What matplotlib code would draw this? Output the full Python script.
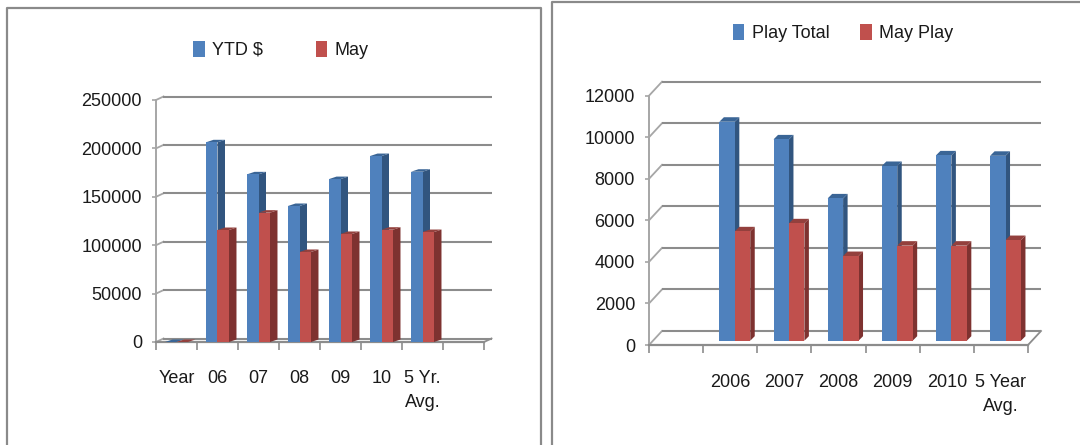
import matplotlib
matplotlib.use('Agg')
import matplotlib.pyplot as plt
from matplotlib.lines import Line2D
from matplotlib.patches import Patch, Polygon, Rectangle

# left chart data
left_labels = ['Year', '06', '07', '08', '09', '10', '5 Yr.\nAvg.', '']
left_ytd = [0, 206300, 173200, 140500, 168300, 192100, 175900, None]
left_may = [0, 115700, 133600, 93000, 111600, 116000, 113600, None]
left_ticks = [0, 50000, 100000, 150000, 200000, 250000]

# right chart data
right_labels = ['', '2006', '2007', '2008', '2009', '2010', '5 Year\nAvg.']
right_total = [None, 10540, 9690, 6850, 8410, 8920, 8900]
right_may = [None, 5265, 5650, 4075, 4575, 4575, 4845]
right_ticks = [0, 2000, 4000, 6000, 8000, 10000, 12000]

W, H = 1080, 445
BLUE, BLUE_SIDE, BLUE_TOP = '#4F81BD', '#31557F', '#3A6596'
RED, RED_SIDE, RED_TOP = '#C0504D', '#7E3230', '#93403D'
GRID = '#8C8C8C'
FONT = ['Liberation Sans Narrow', 'Liberation Sans']

plt.rcParams['font.family'] = FONT

fig = plt.figure(figsize=(W / 100, H / 100), dpi=100)


def make_axes(x0, x1, ytop, ybottom):
    return fig.add_axes([x0 / W, 1 - ybottom / H, (x1 - x0) / W, (ybottom - ytop) / H])


def bar3d(ax, x, width, value, base, dx, dy, colors):
    # front face plus side and top drawn as polygons, depth given in data units
    front, side, top = colors
    y0, y1 = base, base + value
    if value > 0:
        ax.add_patch(Rectangle((x, y0), width, value, fc=front, ec='none', zorder=4))
        ax.add_patch(Polygon([(x + width, y0), (x + width + dx, y0 + dy), (x + width + dx, y1 + dy),
                              (x + width, y1)], fc=side, ec='none', zorder=3))
    ax.add_patch(Polygon([(x, y1), (x + dx, y1 + dy), (x + width + dx, y1 + dy), (x + width, y1)],
                         fc=top, ec='none', zorder=3))


def draw_chart(ax, labels, s1, s2, ticks, names, wall, depth, start, width, base_px, fs, legend_at, legend_gap, label_y):
    slots = len(labels)
    ax.set_xlim(0, slots)
    ax.set_ylim(ticks[0], ticks[-1])
    bbox = ax.get_position()
    px_x = slots / (bbox.width * W)
    px_y = ticks[-1] / (bbox.height * H)

    # back wall gridlines with the connectors to the front plane
    wx, wy = wall[0] * px_x, wall[1] * px_y
    for t in ticks:
        ax.plot([0, wx], [t, t + wy], color='#A6A6A6', lw=1.3, clip_on=False, zorder=1)
        ax.plot([wx, slots + wx], [t + wy, t + wy], color=GRID, lw=1.5, clip_on=False, zorder=1,
                solid_capstyle='butt')
    ax.plot([slots, slots + wx], [0, wy], color=GRID, lw=1.3, clip_on=False, zorder=1)

    # bars
    dx, dy = depth[0] * px_x, depth[1] * px_y
    base = base_px * px_y
    for i in range(slots):
        if s1[i] is None:
            continue
        bar3d(ax, i + start, width, s1[i], base, dx, dy, (BLUE, BLUE_SIDE, BLUE_TOP))
        bar3d(ax, i + start + width, width, s2[i], base, dx, dy, (RED, RED_SIDE, RED_TOP))

    for name in ['top', 'right']:
        ax.spines[name].set_visible(False)
    ax.spines['left'].set_color('#A6A6A6')
    ax.spines['bottom'].set_color(GRID)
    ax.spines['left'].set_linewidth(1.4)
    ax.spines['bottom'].set_linewidth(1.6)
    ax.patch.set_visible(False)

    ax.set_yticks(ticks)
    ax.set_yticklabels([str(t) for t in ticks], fontsize=fs, color='#1A1A1A')
    ax.tick_params(axis='y', length=3, width=1.2, color='#A6A6A6', pad=7)
    ax.set_xticks(range(slots + 1))
    ax.set_xticklabels([])
    ax.tick_params(axis='x', length=6, width=1.2, color=GRID)
    for i, lab in enumerate(labels):
        ax.annotate(lab, (i + 0.5, 0), xytext=(0, label_y), xycoords='data', textcoords='offset pixels',
                    ha='center', va='top', fontsize=fs, color='#1A1A1A', linespacing=1.55)

    handles = [Patch(fc=BLUE, ec='none', label=names[0]), Patch(fc=RED, ec='none', label=names[1])]
    fig.legend(handles=handles, loc='center', bbox_to_anchor=legend_at, ncol=2, frameon=False,
               fontsize=fs, handlelength=0.65, handleheight=0.95, handletextpad=0.4,
               columnspacing=legend_gap, labelcolor='#1A1A1A')


ax1 = make_axes(156, 484, 100, 342)
draw_chart(ax1, left_labels, left_ytd, left_may, left_ticks, ['YTD $', 'May'], (7.5, 3.5), (7.5, 2.5),
           0.22, 0.28, 0, 13, (281 / W, 1 - 50 / H), 2.9, -28)

ax2 = make_axes(649, 1028, 95.7, 345)
draw_chart(ax2, right_labels, right_total, right_may, right_ticks, ['Play Total', 'May Play'], (13, 14), (4.5, 4.5),
           0.30, 0.285, 4.3, 13, (843 / W, 1 - 33 / H), 1.7, -29)

# frames around each pasted chart
frame = dict(color='#8A8A8A', lw=1.6, transform=fig.transFigure, solid_capstyle='butt')
for xs, ys in [([6.5, 6.5, 541, 541], [H, 8, 8, H]), ([551.5, 551.5, W], [H, 1.5, 1.5])]:
    fig.add_artist(Line2D([x / W for x in xs], [1 - y / H for y in ys], **frame))

fig.savefig('out.png', dpi=100)
